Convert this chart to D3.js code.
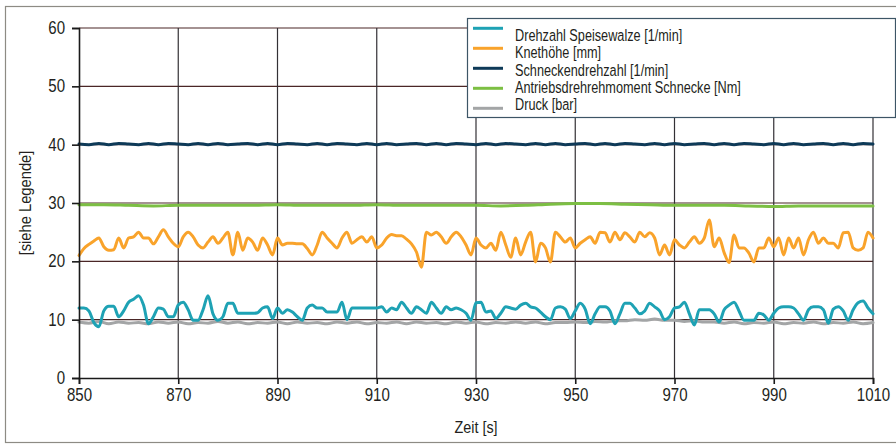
<!DOCTYPE html>
<html>
<head>
<meta charset="utf-8">
<script src="https://cdn.jsdelivr.net/npm/d3@7"></script>
<style>
  html, body { margin: 0; padding: 0; background: #fff; }
  svg { display: block; }
  text { font-family: "Liberation Sans", Arial, sans-serif; fill: #231f20; }
</style>
</head>
<body>
<svg id="chart" width="896" height="448"></svg>
<script>
// ---------- DATA ----------
const xTicks = [850, 870, 890, 910, 930, 950, 970, 990, 1010];
const yTicks = [0, 10, 20, 30, 40, 50, 60];

const seriesNames = [
  "Drehzahl Speisewalze [1/min]",
  "Knethöhe [mm]",
  "Schneckendrehzahl [1/min]",
  "Antriebsdrehrehmoment Schnecke [Nm]",
  "Druck [bar]"
];
const seriesColors = ["#1ea2b4", "#f9a32b", "#0e3a58", "#7cbf43", "#a3a5a6"];

// time bases (s)
const timeFast = d3.range(850, 1011, 1);   // 1 s samples
const timeSlow = d3.range(850, 1011, 2);   // 2 s samples
const timeGreen = d3.range(850, 1011, 5);  // 5 s samples

// Drehzahl Speisewalze [1/min], 1 s
const speisewalze = [
  12.0, 12.0, 11.5, 9.5, 8.8, 11.5, 12.3, 12.3, 10.5, 11.5,
  13.0, 13.5, 14.1, 12.5, 9.3, 10.5, 12.0, 11.8, 10.5, 10.5,
  12.5, 13.0, 11.7, 9.9, 9.9, 11.7, 14.1, 11.0, 9.9, 10.5,
  12.8, 12.8, 11.1, 11.1, 11.1, 11.1, 11.2, 12.0, 12.2, 10.2,
  12.0,
  11.1, 11.7, 11.3, 10.5, 9.9, 12.0, 12.5, 12.0, 12.0, 11.3,
  11.3, 11.3, 13.0, 10.0, 12.0, 12.0, 12.0, 12.0, 12.0, 12.0,
  12.2, 11.3, 12.0, 11.7, 13.0, 12.0, 11.1, 12.2, 11.7, 11.1,
  13.0, 12.0, 11.1, 12.2, 11.7, 12.0, 11.7, 11.1, 9.9, 12.9,
  13.0, 11.3, 11.5, 10.2, 11.1, 12.2, 12.0, 11.8, 12.5, 12.8,
  12.2, 12.0, 11.3, 10.5, 10.0, 12.0, 12.2, 11.8, 10.2, 11.5,
  12.8, 11.8, 9.3, 11.0, 12.2, 12.2, 11.5, 9.3, 11.0, 12.8,
  12.8, 12.0, 11.0, 11.5, 12.8, 12.2, 11.5, 10.0, 10.5, 12.0,
  12.2, 13.0, 11.0, 9.1, 11.7, 11.7, 11.7, 11.0, 9.6, 11.7,
  12.5, 13.0, 11.5, 9.9, 9.9, 9.9, 11.1, 10.8, 9.9, 11.1,
  12.0, 12.2, 12.2, 12.0, 11.0, 9.9, 11.7, 12.2, 12.2, 11.7,
  9.4, 11.8, 12.2, 11.5, 9.9, 11.7, 12.9, 13.2, 12.0, 11.0
];

// Knethöhe [mm], 1 s
const knethoehe = [
  21.0, 22.2, 22.9, 23.5, 24.0, 22.5, 21.9, 22.0, 24.0, 22.3,
  24.0, 24.2, 25.0, 24.0, 24.0, 23.0, 24.2, 25.4, 24.2, 23.1,
  22.5, 24.2, 25.0, 24.2, 22.8, 22.3, 23.3, 24.2, 23.1, 24.0,
  25.0, 21.1, 25.0, 21.9, 24.0, 23.3, 21.9, 24.0, 22.8, 21.1,
  24.0,
  22.8, 23.1, 23.1, 23.0, 23.0, 22.2, 21.1, 22.8, 25.0, 24.0,
  23.1, 22.3, 24.0, 25.0, 23.1, 23.7, 24.2, 23.3, 24.2, 22.3,
  22.8, 24.0, 24.6, 24.4, 24.4, 23.8, 23.0, 21.6, 19.0, 25.0,
  24.5, 25.0, 24.2, 23.1, 24.2, 25.0, 24.2, 22.8, 21.1, 24.0,
  22.8, 22.3, 23.1, 21.9, 25.0, 22.8, 20.7, 24.0, 21.1, 23.3,
  25.0, 19.9, 23.1, 22.3, 19.9, 25.0, 24.2, 23.3, 24.0, 22.3,
  23.1, 23.7, 24.2, 23.1, 25.0, 24.9, 23.3, 25.0, 23.7, 24.9,
  24.2, 23.3, 25.0, 24.2, 24.9, 24.0, 21.1, 22.8, 21.1, 23.7,
  22.8, 22.3, 23.3, 24.2, 23.1, 24.0, 27.1, 22.5, 24.0, 21.5,
  19.8, 24.5, 22.3, 22.3, 21.4, 19.9, 22.3, 22.3, 24.0, 22.5,
  24.0, 21.1, 24.0, 22.3, 24.0, 21.1, 23.7, 25.0, 23.1, 24.0,
  23.1, 23.1, 22.3, 24.9, 25.0, 22.3, 21.9, 22.3, 25.0, 24.0
];

// Schneckendrehzahl [1/min], 2 s
const schneckendrehzahl = [
  40.1, 40.0, 40.2, 40.0, 40.2, 40.1, 40.0, 40.2, 40.0, 40.2,
  40.1, 40.0, 40.2, 40.0, 40.2, 40.0, 40.1, 40.2, 40.0, 40.2,
  40.0, 40.2, 40.1, 40.0, 40.2, 40.0, 40.2, 40.1, 40.0, 40.2,
  40.0, 40.2, 40.0, 40.1, 40.2, 40.0, 40.2, 40.0, 40.2, 40.1,
  40.0, 40.2, 40.0, 40.2, 40.1, 40.0, 40.2, 40.0, 40.2, 40.0,
  40.1, 40.2, 40.0, 40.2, 40.0, 40.2, 40.1, 40.0, 40.2, 40.0,
  40.2, 40.0, 40.1, 40.2, 40.0, 40.2, 40.0, 40.2, 40.1, 40.0,
  40.2, 40.0, 40.2, 40.0, 40.1, 40.2, 40.0, 40.2, 40.0, 40.2,
  40.1
];

// Antriebsdrehrehmoment Schnecke [Nm], 5 s
const drehmoment = [
  29.7, 29.7, 29.6, 29.5, 29.6, 29.6, 29.6, 29.6, 29.7, 29.6,
  29.6, 29.6, 29.7, 29.6, 29.6, 29.6, 29.6, 29.5, 29.6, 29.8,
  29.9, 29.9, 29.8, 29.7, 29.6, 29.6, 29.6, 29.5, 29.4, 29.5,
  29.5, 29.5, 29.5
];

// Druck [bar], 2 s
const druck = [
  9.6, 9.4, 9.7, 9.3, 9.6, 9.4, 9.5, 9.3, 9.6, 9.4,
  9.6, 9.3, 9.5, 9.4, 9.7, 9.4, 9.6, 9.3, 9.5, 9.4,
  9.6, 9.3, 9.6, 9.4, 9.5, 9.3, 9.6, 9.4, 9.6, 9.3,
  9.5, 9.4, 9.6, 9.3, 9.6, 9.4, 9.5, 9.3, 9.6, 9.4,
  9.6, 9.3, 9.5, 9.4, 9.6, 9.4, 9.6, 9.3, 9.5, 9.5,
  9.6, 9.5, 9.7, 9.6, 9.8, 9.8, 10.0, 9.9, 10.1, 9.9,
  9.9, 9.7, 9.8, 9.6, 9.6, 9.4, 9.6, 9.3, 9.5, 9.4,
  9.6, 9.3, 9.5, 9.4, 9.6, 9.3, 9.5, 9.4, 9.6, 9.3,
  9.5
];

// ---------- CHART ----------
const svg = d3.select("#chart");
const x = d3.scaleLinear().domain([850, 1010]).range([79, 873]);
const y = d3.scaleLinear().domain([0, 60]).range([378, 28]);
const condense = 0.86;

// outer frame
svg.append("rect").attr("x", 5.5).attr("y", 6.5).attr("width", 900).attr("height", 436)
  .attr("fill", "none").attr("stroke", "#8d8b84").attr("stroke-width", 1.2);

// grid
const grid = svg.append("g");
grid.selectAll("line.h").data(yTicks.filter(d => d > 0)).join("line")
  .attr("x1", x(850)).attr("x2", x(1010))
  .attr("y1", d => y(d)).attr("y2", d => y(d))
  .attr("stroke", "#4a2626").attr("stroke-width", 1.2);
grid.selectAll("line.v").data(xTicks.filter(d => d > 850)).join("line")
  .attr("x1", d => x(d)).attr("x2", d => x(d))
  .attr("y1", y(0)).attr("y2", y(60))
  .attr("stroke", "#333035").attr("stroke-width", 1.2);

// series
const series = [
  { t: timeSlow, v: druck, c: seriesColors[4] },
  { t: timeGreen, v: drehmoment, c: seriesColors[3] },
  { t: timeSlow, v: schneckendrehzahl, c: seriesColors[2] },
  { t: timeFast, v: knethoehe, c: seriesColors[1] },
  { t: timeFast, v: speisewalze, c: seriesColors[0] }
];
const line = d3.line().x(d => x(d[0])).y(d => y(d[1])).curve(d3.curveMonotoneX);
series.forEach(s => {
  svg.append("path")
    .datum(s.t.map((t, i) => [t, s.v[i]]))
    .attr("d", line)
    .attr("fill", "none")
    .attr("stroke", s.c)
    .attr("stroke-width", 3)
    .attr("stroke-linejoin", "round")
    .attr("stroke-linecap", "round");
});

// axes
const yAxis = svg.append("g").attr("transform", `translate(${x(850)},0)`)
  .call(d3.axisLeft(y).tickValues(yTicks).tickSize(7).tickPadding(7));
const xAxis = svg.append("g").attr("transform", `translate(0,${y(0)})`)
  .call(d3.axisBottom(x).tickValues(xTicks).tickFormat(d3.format("d")).tickSize(6).tickPadding(5));
[yAxis, xAxis].forEach(a => {
  a.select(".domain").attr("stroke", "#1a1a1a").attr("stroke-width", 1.6);
  a.selectAll(".tick line").attr("stroke", "#1a1a1a").attr("stroke-width", 1.6);
  a.selectAll(".tick text").style("font-size", "17.5px")
    .style("font-family", "'Liberation Sans', Arial, sans-serif").attr("fill", "#231f20")
    .attr("transform", `scale(${condense},1)`);
});
yAxis.selectAll(".tick text").attr("x", -14 / condense);

// axis titles
svg.append("text").attr("transform", `translate(476,433) scale(0.9,1)`).attr("text-anchor", "middle")
  .style("font-size", "16px").text("Zeit [s]");
svg.append("text").attr("transform", "translate(31,203) rotate(-90) scale(0.92,1)").attr("text-anchor", "middle")
  .style("font-size", "16px").text("[siehe Legende]");

// legend
const lg = svg.append("g");
lg.append("rect").attr("x", 467.5).attr("y", 18.5).attr("width", 428).attr("height", 99)
  .attr("fill", "#fff").attr("stroke", "#3d5566").attr("stroke-width", 1.2);
seriesNames.forEach((name, i) => {
  lg.append("line").attr("x1", 473).attr("x2", 503)
    .attr("y1", 28.3 + i * 20).attr("y2", 28.3 + i * 20)
    .attr("stroke", seriesColors[i]).attr("stroke-width", 3);
  lg.append("text")
    .attr("transform", `translate(515,${41 + i * 17.3}) scale(0.77,1)`)
    .style("font-size", "16.5px").text(name);
});
</script>
</body>
</html>
